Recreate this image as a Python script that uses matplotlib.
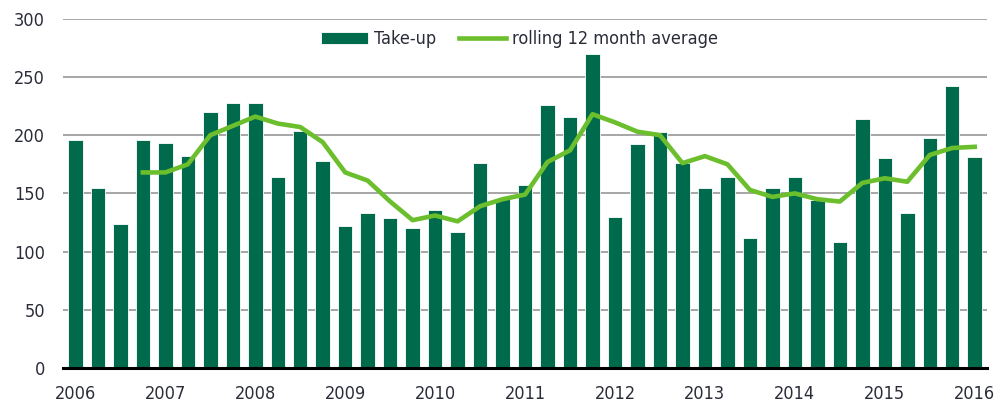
import matplotlib
matplotlib.use('Agg')
from matplotlib import pyplot as plt
import numpy as np

matplotlib.rcParams.update({
    'font.family': ['DejaVu Sans'],
    'font.stretch': 'condensed',
})

years = ['2006', '2007', '2008', '2009', '2010', '2011', '2012', '2013', '2014', '2015', '2016']

take_up = [196, 155, 124, 196, 193, 182, 220, 228, 228, 164, 204, 178,
           122, 133, 129, 120, 136, 117, 176, 145, 157, 226, 216, 270,
           130, 192, 203, 176, 155, 164, 112, 155, 164, 144, 108, 214,
           180, 133, 198, 242, 181]

rolling = [None, None, None, 168, 168, 175, 200, 208, 216, 210, 207, 194,
           168, 161, 143, 127, 131, 126, 139, 145, 149, 177, 187, 218,
           211, 203, 200, 176, 182, 175, 153, 147, 150, 145, 143, 159,
           163, 160, 183, 189, 190]

bar_color = '#006A4C'
line_color = '#6BBE2C'
text_color = '#2A2C38'

x = np.arange(len(take_up))
roll = np.array([np.nan if v is None else v for v in rolling], dtype=float)

fig = plt.figure(figsize=(9.95, 4.08), dpi=100)
ax = fig.add_axes([0.0636, 0.098, 0.928, 0.856])

bars = ax.bar(x, take_up, width=0.645, color=bar_color, edgecolor='white', linewidth=0.6,
              label='Take-up', zorder=2)
line, = ax.plot(x, roll, color=line_color, linewidth=3.3, solid_joinstyle='round',
                label='rolling 12 month average', zorder=3)

ax.set_xlim(-0.54, 40.53)
ax.set_ylim(0, 300)
ax.set_yticks(range(0, 301, 50))
ax.set_xticks(x[::4])
ax.set_xticklabels(years)

ax.yaxis.grid(True, color='#A6A6A6', linewidth=1.4, zorder=0)
ax.set_axisbelow(True)
for s in ['top', 'right', 'left']:
    ax.spines[s].set_visible(False)
ax.spines['bottom'].set_color('black')
ax.spines['bottom'].set_linewidth(2.2)
ax.spines['bottom'].set_zorder(4)

ax.tick_params(axis='both', length=0, labelsize=13, colors=text_color)
ax.tick_params(axis='y', pad=13)
ax.tick_params(axis='x', pad=12)

leg = ax.legend([bars, line], ['Take-up', 'rolling 12 month average'],
                loc='center', bbox_to_anchor=(0.494, 0.941), ncol=2, frameon=False,
                fontsize=13, handlelength=2.6, handleheight=0.6, columnspacing=1.3,
                handletextpad=0.3)
for t in leg.get_texts():
    t.set_color(text_color)

fig.savefig('out.png', dpi=100)
